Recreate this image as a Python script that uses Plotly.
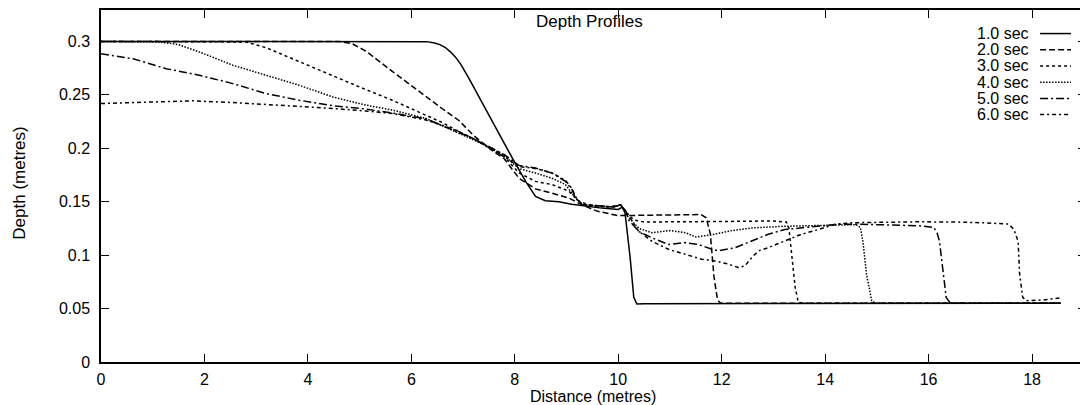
import plotly.graph_objects as go

# ---------------- data ----------------
series_names = ["1.0 sec", "2.0 sec", "3.0 sec", "4.0 sec", "5.0 sec", "6.0 sec"]

x_1s = [0, 6.0, 6.3, 6.45, 6.55, 6.65, 6.75, 6.85, 6.95, 7.1, 7.56, 7.95, 8.21, 8.4, 8.59, 8.85,
        9.1, 9.37, 9.68, 10.0, 10.08, 10.13, 10.17, 10.23, 10.30, 10.36, 10.5, 18.55]
y_1s = [0.3, 0.3, 0.2998, 0.2985, 0.297, 0.2945, 0.2905, 0.2855, 0.279, 0.2665, 0.225, 0.191,
        0.169, 0.155, 0.151, 0.150, 0.1477, 0.1458, 0.144, 0.1427, 0.145, 0.140, 0.125, 0.0977,
        0.0605, 0.0543, 0.0545, 0.055]

x_2s = [0, 4.6, 4.85, 5.12, 5.63, 6.28, 6.6, 6.92, 7.2, 7.56, 7.8, 8.08, 8.4, 8.72, 9.04, 9.3,
        9.6, 10.0, 10.5, 11.0, 11.6, 11.7, 11.78, 11.85, 11.92, 11.98, 18.55]
y_2s = [0.3, 0.3, 0.298, 0.291, 0.272, 0.248, 0.237, 0.226, 0.212, 0.198, 0.19, 0.172, 0.162,
        0.158, 0.1535, 0.147, 0.141, 0.137, 0.1375, 0.138, 0.138, 0.135, 0.12, 0.08, 0.058, 0.055, 0.055]

x_3s = [0, 2.6, 2.81, 3.2, 3.83, 4.48, 5.0, 5.63, 6.28, 6.6, 6.92, 7.2, 7.56, 7.8, 8.08, 8.4,
        8.72, 9.04, 9.24, 9.5, 9.8, 10.05, 10.15, 10.3, 10.5, 11.0, 12.0, 13.0, 13.25, 13.3,
        13.35, 13.42, 13.48, 13.55, 18.55]
y_3s = [0.3, 0.3, 0.2995, 0.294, 0.281, 0.268, 0.2573, 0.245, 0.231, 0.224, 0.2156, 0.209, 0.199,
        0.192, 0.177, 0.169, 0.166, 0.16, 0.1505, 0.146, 0.145, 0.147, 0.14, 0.133, 0.131, 0.131,
        0.1315, 0.132, 0.131, 0.125, 0.1, 0.07, 0.056, 0.055, 0.055]

x_4s = [0, 0.9, 1.14, 1.5, 1.91, 2.55, 3.19, 3.83, 4.48, 5.12, 5.63, 6.28, 6.6, 6.92, 7.2, 7.56,
        7.8, 8.08, 8.4, 8.72, 8.98, 9.17, 9.3, 9.6, 9.9, 10.05, 10.15, 10.4, 10.65, 11.0, 11.3,
        11.5, 11.8, 12.2, 12.6, 13.2, 13.9, 14.6, 14.68, 14.73, 14.8, 14.9, 14.97, 18.55]
y_4s = [0.3, 0.3, 0.2995, 0.297, 0.29, 0.2777, 0.268, 0.259, 0.248, 0.2404, 0.2358, 0.228, 0.221,
        0.214, 0.208, 0.2, 0.193, 0.181, 0.1768, 0.172, 0.166, 0.1535, 0.1474, 0.146, 0.145, 0.147,
        0.138, 0.125, 0.121, 0.123, 0.121, 0.117, 0.119, 0.123, 0.1255, 0.127, 0.128, 0.1285,
        0.126, 0.113, 0.082, 0.0574, 0.055, 0.055]

x_5s = [0, 0.62, 1.26, 1.9, 2.55, 3.19, 3.83, 4.48, 5.12, 5.63, 6.28, 6.6, 6.92, 7.2, 7.56, 7.8,
        8.08, 8.4, 8.72, 8.98, 9.11, 9.17, 9.3, 9.6, 9.9, 10.05, 10.15, 10.2, 10.4, 10.65, 10.97,
        11.29, 11.55, 11.81, 11.94, 12.26, 12.58, 12.9, 13.22, 13.61, 13.87, 14.25, 14.6, 15.2,
        15.8, 16.1, 16.17, 16.21, 16.28, 16.34, 16.41, 16.5, 18.55]
y_5s = [0.2885, 0.2838, 0.2745, 0.2684, 0.2605, 0.2512, 0.245, 0.2398, 0.2367, 0.233, 0.2275,
        0.221, 0.214, 0.209, 0.2, 0.194, 0.184, 0.1815, 0.1768, 0.169, 0.161, 0.1535, 0.1474,
        0.146, 0.145, 0.147, 0.141, 0.133, 0.122, 0.1163, 0.110, 0.1117, 0.110, 0.1055, 0.104,
        0.107, 0.113, 0.1195, 0.124, 0.1256, 0.127, 0.1288, 0.129, 0.1285, 0.1275, 0.126, 0.12,
        0.113, 0.082, 0.0605, 0.0558, 0.055, 0.055]

x_6s = [0, 0.6, 1.2, 1.78, 2.55, 3.19, 3.83, 4.48, 5.12, 5.63, 6.28, 6.6, 6.92, 7.2, 7.56, 7.8,
        8.08, 8.4, 8.72, 8.98, 9.11, 9.17, 9.3, 9.6, 9.9, 10.05, 10.15, 10.39, 10.65, 10.97,
        11.29, 11.61, 11.87, 12.13, 12.32, 12.45, 12.58, 12.71, 12.9, 13.22, 13.54, 13.87,
        14.19, 14.51, 15.2, 15.79, 16.5, 17.08, 17.55, 17.65, 17.73, 17.76, 17.82, 17.89, 18.2, 18.55]
y_6s = [0.2419, 0.2428, 0.2438, 0.2444, 0.2428, 0.241, 0.2389, 0.2373, 0.2348, 0.2326, 0.2265,
        0.2215, 0.2156, 0.209, 0.1986, 0.192, 0.183, 0.181, 0.177, 0.17, 0.162, 0.155, 0.1474,
        0.146, 0.145, 0.147, 0.141, 0.1226, 0.113, 0.1055, 0.101, 0.0962, 0.0946, 0.0916, 0.0884,
        0.09, 0.0977, 0.104, 0.107, 0.113, 0.1195, 0.124, 0.1288, 0.1303, 0.131, 0.1312, 0.131,
        0.1303, 0.129, 0.124, 0.113, 0.082, 0.0605, 0.0574, 0.058, 0.06]

x_ticks = [0, 2, 4, 6, 8, 10, 12, 14, 16, 18]
y_ticks = [0, 0.05, 0.1, 0.15, 0.2, 0.25, 0.3]
y_tick_text = ["0", "0.05", "0.1", "0.15", "0.2", "0.25", "0.3"]

# ---------------- styling ----------------
FONT = "Liberation Sans, Arial, Helvetica, sans-serif"
dashes = ["solid", "6px,3px", "3px,3px", "1.5px,1.5px", "8px,3px,2px,3px", "4px,3px,2px,3px"]
LW = 1.5

# the page body has an 8px margin; figure sized so the plot lands where the reference has it
OFF = 8
W, H = 1088 - OFF, 405 - OFF
PLOT_LEFT, PLOT_RIGHT, PLOT_TOP, PLOT_BOTTOM = 101, 1088, 8, 362   # page pixels
L = PLOT_LEFT - OFF
R = 0
T = PLOT_TOP - OFF
B = H - (PLOT_BOTTOM - OFF)
plot_w = PLOT_RIGHT - PLOT_LEFT
plot_h = PLOT_BOTTOM - PLOT_TOP

xs = [x_1s, x_2s, x_3s, x_4s, x_5s, x_6s]
ys = [y_1s, y_2s, y_3s, y_4s, y_5s, y_6s]

fig = go.Figure()
for name, xv, yv, d in zip(series_names, xs, ys, dashes):
    fig.add_trace(go.Scatter(x=xv, y=yv, mode="lines", name=name, showlegend=False,
                             line=dict(color="black", width=LW, dash=d)))

def px_x(px):
    return (px - PLOT_LEFT) / plot_w

def px_y(py):
    return (PLOT_BOTTOM - py) / plot_h

# manual legend (text left of sample, as in reference)
shapes = []
annotations = []
for i, (name, d) in enumerate(zip(series_names, dashes)):
    py = 31.7 + 16.3 * i
    annotations.append(dict(x=px_x(1033), y=px_y(py), xref="paper", yref="paper",
                            text=name, showarrow=False, xanchor="right", yanchor="middle",
                            font=dict(family=FONT, size=16, color="black")))
    shapes.append(dict(type="line", xref="paper", yref="paper",
                       x0=px_x(1042), x1=px_x(1073), y0=px_y(py), y1=px_y(py),
                       line=dict(color="black", width=LW, dash=d)))

annotations.append(dict(x=px_x(590), y=px_y(20), xref="paper", yref="paper",
                        text="Depth Profiles", showarrow=False, xanchor="center", yanchor="middle",
                        font=dict(family=FONT, size=17, color="black")))
annotations.append(dict(x=px_x(594), y=px_y(397), xref="paper", yref="paper",
                        text="Distance (metres)", showarrow=False, xanchor="center", yanchor="middle",
                        font=dict(family=FONT, size=16, color="black")))
annotations.append(dict(x=px_x(18.5), y=px_y(182), xref="paper", yref="paper",
                        text="Depth (metres)", showarrow=False, xanchor="center", yanchor="middle",
                        textangle=-90, font=dict(family=FONT, size=17, color="black")))

x_max = plot_w / 51.83
y_max = plot_h / 1074.7

fig.update_layout(
    width=W, height=H,
    margin=dict(l=L, r=R, t=T, b=B, pad=0),
    paper_bgcolor="white", plot_bgcolor="white",
    font=dict(family=FONT, size=16, color="black"),
    shapes=shapes, annotations=annotations,
    showlegend=False,
)
fig.update_xaxes(range=[0, x_max], tickvals=x_ticks, ticks="inside", ticklen=8, tickwidth=1.2,
                 tickcolor="black", showline=True, linecolor="black", linewidth=1.5,
                 mirror="ticks", showgrid=False, zeroline=False, ticklabelstandoff=2,
                 tickfont=dict(family=FONT, size=16, color="black"))
fig.update_yaxes(range=[0, y_max], tickvals=y_ticks, ticktext=y_tick_text, ticks="inside",
                 ticklen=8, tickwidth=1.2, tickcolor="black", showline=True, linecolor="black",
                 linewidth=1.5, mirror="ticks", showgrid=False, zeroline=False, ticklabelstandoff=6,
                 tickfont=dict(family=FONT, size=16, color="black"))

fig.write_html("out.html")
